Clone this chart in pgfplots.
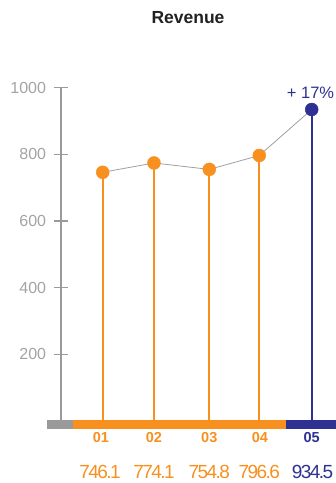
\documentclass[border=0pt]{standalone}
\usepackage{pgfplots}
\pgfplotsset{compat=1.18}
\usepackage{fontspec}
\setmainfont{Liberation Sans}
\newfontfamily\tightfont[LetterSpace=-8]{Liberation Sans}
\definecolor{corange}{HTML}{F7901E}
\definecolor{cnavy}{HTML}{2E3192}
\definecolor{caxis}{HTML}{9A9A9A}
\definecolor{clab}{HTML}{A3A3A3}
\definecolor{cline}{HTML}{A0A0A0}
\begin{document}
\begin{tikzpicture}[x=1pt,y=1pt,
  lab/.style={font=\fontsize{14.5}{16}\selectfont\bfseries},
  val/.style={font=\tightfont\fontsize{19}{21}\selectfont}]
\useasboundingbox (0,0) rectangle (336,483);
\node[font=\fontsize{17.5}{20}\selectfont\bfseries, text=black!87] at (188,465) {Revenue};
\begin{axis}[
  at={(61pt,62pt)}, anchor=south west,
  scale only axis, width=275pt, height=333.33pt,
  xmin=61, xmax=336, ymin=0, ymax=1000,
  clip=false,
  axis x line=none,
  axis y line*=left,
  y axis line style={draw=caxis, line width=1.2pt, -},
  ytick={200,400,600,800,1000},
  tick align=center,
  major tick length=13.5pt,
  ytick style={draw=caxis, line width=1.2pt},
  yticklabel style={font=\fontsize{16}{18}\selectfont, text=clab, anchor=east, inner sep=0pt, xshift=-8pt},
  /pgf/number format/assume math mode=true,
  /pgf/number format/1000 sep={},
]
\addplot[cline, line width=0.8pt, no marks] coordinates {(102.7,746.1) (154,774.1) (209.3,754.8) (259.3,796.6) (311.7,934.5)};
\addplot[ycomb, corange, line width=1.7pt, no marks] coordinates {(102.7,746.1) (154,774.1) (209.3,754.8) (259.3,796.6)};
\addplot[ycomb, cnavy, line width=1.7pt, no marks] coordinates {(311.7,934.5)};
\addplot[only marks, mark=*, mark size=6.5pt, corange, mark options={draw=corange, fill=corange}] coordinates {(102.7,746.1) (154,774.1) (209.3,754.8) (259.3,796.6)};
\addplot[only marks, mark=*, mark size=6.5pt, cnavy, mark options={draw=cnavy, fill=cnavy}] coordinates {(311.7,934.5)};
\fill[caxis] (axis cs:47,3) rectangle (axis cs:73,-24);
\fill[corange] (axis cs:73,3) rectangle (axis cs:286,-24);
\fill[cnavy] (axis cs:286,3) rectangle (axis cs:336,-24);
\node[lab, text=corange] at (axis cs:101,-51) {01};
\node[lab, text=corange] at (axis cs:154,-51) {02};
\node[lab, text=corange] at (axis cs:209.3,-51) {03};
\node[lab, text=corange] at (axis cs:260,-51) {04};
\node[lab, text=cnavy] at (axis cs:311.7,-51) {05};
\node[val, text=corange] at (axis cs:100,-153) {746.1};
\node[val, text=corange] at (axis cs:154,-153) {774.1};
\node[val, text=corange] at (axis cs:209.3,-153) {754.8};
\node[val, text=corange] at (axis cs:259.3,-153) {796.6};
\node[val, text=cnavy] at (axis cs:312.5,-153) {934.5};
\node[font=\fontsize{16.5}{18}\selectfont, text=cnavy] at (axis cs:310.5,984) {+ 17\%};
\end{axis}
\end{tikzpicture}
\end{document}
